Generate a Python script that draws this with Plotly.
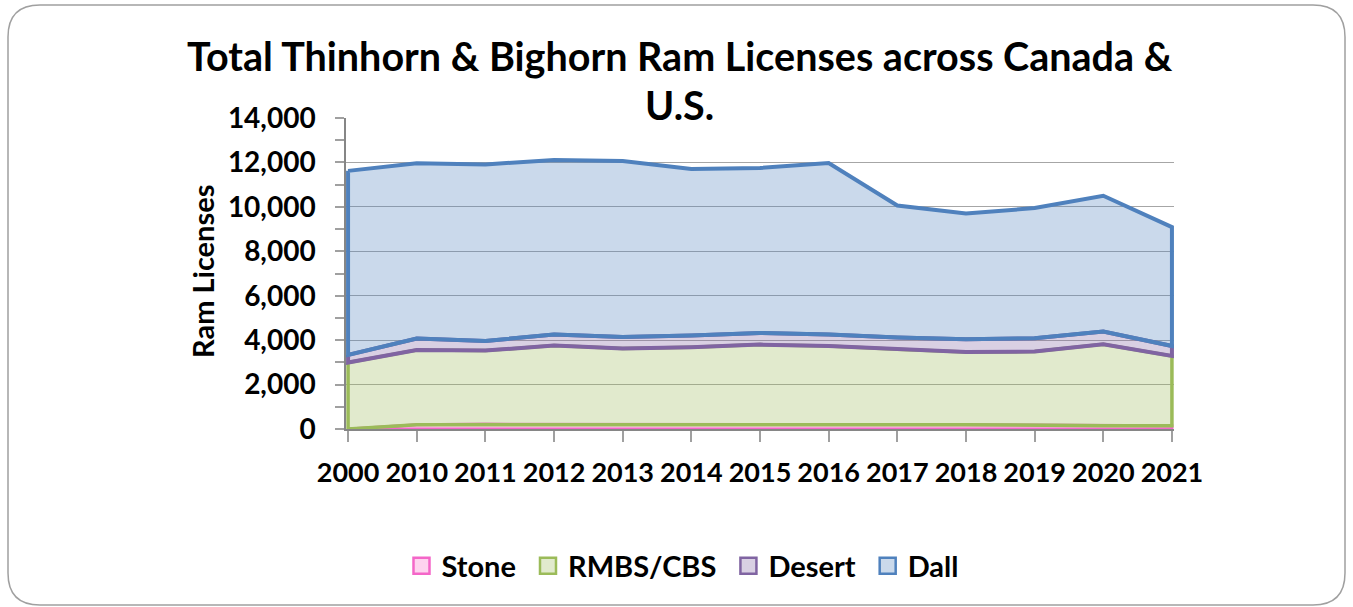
import plotly.graph_objects as go

# ---- data ----
years = ['2000', '2010', '2011', '2012', '2013', '2014', '2015', '2016',
         '2017', '2018', '2019', '2020', '2021']
stone = [0, 190, 220, 220, 220, 210, 190, 190, 190, 190, 180, 150, 150]
rmbs_cbs = [2990, 3370, 3310, 3535, 3400, 3470, 3610, 3550, 3400, 3280, 3305, 3665, 3140]
desert = [345, 510, 435, 495, 525, 525, 520, 510, 525, 570, 600, 570, 450]
dall = [8285, 7890, 7945, 7860, 7915, 7495, 7430, 7720, 5945, 5660, 5860, 6115, 5350]

series_names = ['Stone', 'RMBS/CBS', 'Desert', 'Dall']
series_values = [stone, rmbs_cbs, desert, dall]
line_colors = ['#F466C8', '#9BBB59', '#8064A2', '#4F81BD']
fill_colors = ['rgba(252,120,205,0.33)', 'rgba(155,187,89,0.3)',
               'rgba(128,100,162,0.3)', 'rgba(79,129,189,0.3)']
line_widths = [3, 3.5, 4, 4]

W, H = 1353, 607
L, R, T, B = 346, 179, 118, 178
PW, PH = W - L - R, H - T - B
FONT = 'Lato'
NBSP = '\u00a0'


def px(xpix):
    return (xpix - L) / PW


def py(ypix):
    return (H - B - ypix) / PH


fig = go.Figure()
base = [0] * len(years)
for name, vals, lc, fc, lw in zip(series_names, series_values, line_colors,
                                  fill_colors, line_widths):
    top = [b + v for b, v in zip(base, vals)]
    xs = years + years[::-1] + [years[0]]
    ys = top + base[::-1] + [top[0]]
    fig.add_trace(go.Scatter(
        x=xs, y=ys, name=name, mode='lines', fill='toself',
        fillcolor=fc, line=dict(color=lc, width=lw, shape='linear'),
        hoverinfo='skip', showlegend=False))
    base = top

# legend entries (square swatches like the reference)
for i, (name, lc, fc) in enumerate(zip(series_names, line_colors, fill_colors)):
    label = name + (NBSP if i < len(series_names) - 1 else '')
    fig.add_trace(go.Scatter(
        x=[None], y=[None], name=label, mode='markers',
        marker=dict(symbol='square', size=16, color=fc,
                    line=dict(color=lc, width=2.5)),
        hoverinfo='skip'))

fig.update_layout(
    width=W, height=H,
    margin=dict(l=L, r=R, t=T, b=B, autoexpand=False),
    paper_bgcolor='white', plot_bgcolor='white',
    font=dict(family=FONT, color='black'),
    showlegend=True,
    legend=dict(orientation='h', xref='container', yref='container',
                x=0.5048, xanchor='center', y=1 - 566 / H, yanchor='middle',
                font=dict(family=FONT, size=29, weight='bold', color='black'),
                itemwidth=30, tracegroupgap=0, bgcolor='rgba(0,0,0,0)'),
    xaxis=dict(type='category', categoryorder='array', categoryarray=years,
               range=[-0.03, len(years) - 1 + 0.03],
               showgrid=False, showline=True, linecolor='#868686', linewidth=1.5,
               ticks='outside', ticklen=11, tickcolor='#A0A0A0', tickwidth=1.5,
               tickangle=0, ticklabelstandoff=8,
               tickfont=dict(family=FONT, size=27, weight='bold', color='black'),
               zeroline=False),
    yaxis=dict(range=[0, 14000], dtick=2000, tickformat=',',
               showgrid=True, gridcolor='#A6A6A6', gridwidth=1.2,
               showline=True, linecolor='#868686', linewidth=1.5,
               ticks='outside', ticklen=9, tickcolor='#A0A0A0', tickwidth=1.5,
               minor=dict(dtick=1000, ticks='outside', ticklen=9,
                          tickcolor='#A0A0A0', showgrid=False),
               ticklabelstandoff=14,
               tickfont=dict(family=FONT, size=28, weight='bold', color='black'),
               zeroline=False),
)

# rounded chart border
x0, y0, x1, y1, r = 8, 5, 1345, 605, 32
path = (f'M {px(x0 + r)} {py(y0)} L {px(x1 - r)} {py(y0)} '
        f'Q {px(x1)} {py(y0)} {px(x1)} {py(y0 + r)} '
        f'L {px(x1)} {py(y1 - r)} Q {px(x1)} {py(y1)} {px(x1 - r)} {py(y1)} '
        f'L {px(x0 + r)} {py(y1)} Q {px(x0)} {py(y1)} {px(x0)} {py(y1 - r)} '
        f'L {px(x0)} {py(y0 + r)} Q {px(x0)} {py(y0)} {px(x0 + r)} {py(y0)} Z')
fig.add_shape(type='path', path=path, xref='paper', yref='paper',
              line=dict(color='#A0A0A0', width=1.5), layer='below')

# title (two lines as in the reference)
fig.add_annotation(text='Total Thinhorn & Bighorn Ram Licenses across Canada &',
                   xref='paper', yref='paper', x=px(680), y=py(55),
                   xanchor='center', yanchor='middle', showarrow=False,
                   font=dict(family=FONT, size=39.5, weight='bold', color='black'))
fig.add_annotation(text='U.S.',
                   xref='paper', yref='paper', x=px(679), y=py(105),
                   xanchor='center', yanchor='middle', showarrow=False,
                   font=dict(family=FONT, size=39.5, weight='bold', color='black'))
# y-axis title
fig.add_annotation(text='Ram Licenses', textangle=-90,
                   xref='paper', yref='paper', x=px(202), y=py(272),
                   xanchor='center', yanchor='middle', showarrow=False,
                   font=dict(family=FONT, size=29, weight='bold', color='black'))

fig.write_html('out.html',
               config={'displayModeBar': False},
               post_script="document.body.style.margin='0';"
                           "document.body.style.padding='0';"
                           "document.body.style.overflow='hidden';")
